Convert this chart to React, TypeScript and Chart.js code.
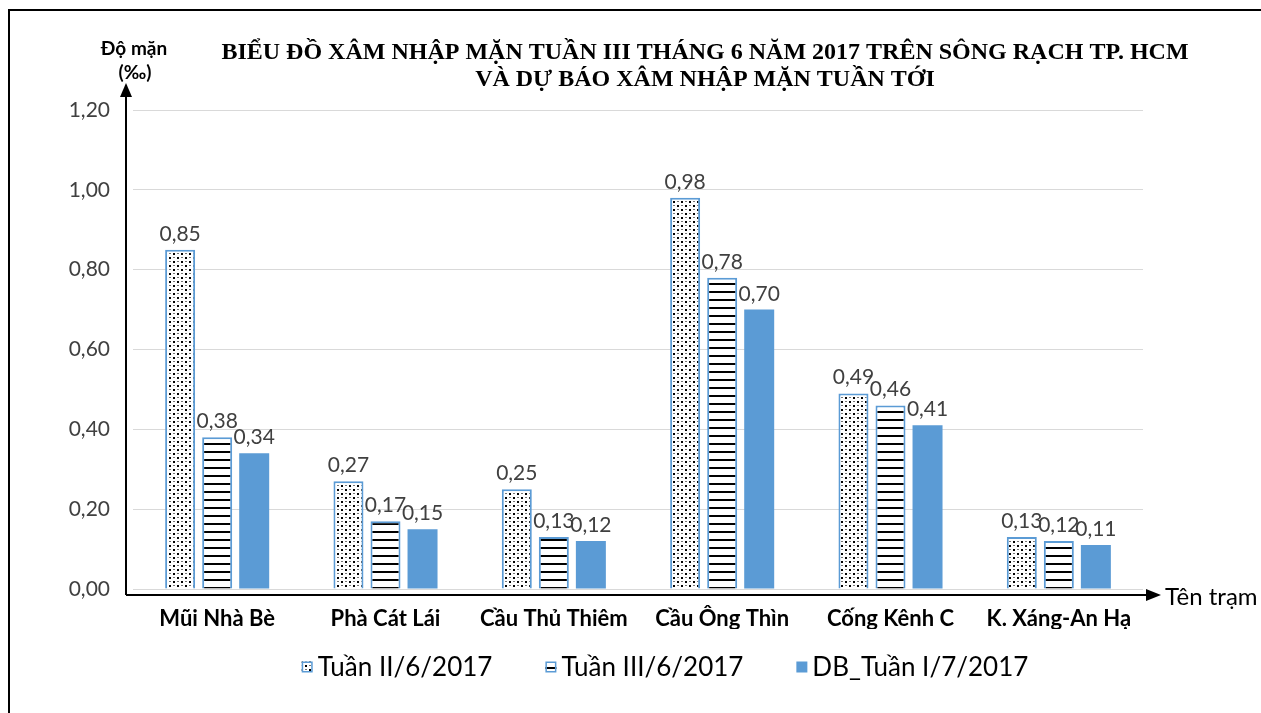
import React, { useEffect, useRef } from "react";
import { Chart, registerables } from "chart.js";

Chart.register(...registerables);

const categories = ["Mũi Nhà Bè", "Phà Cát Lái", "Cầu Thủ Thiêm", "Cầu Ông Thìn", "Cống Kênh C", "K. Xáng-An Hạ"];
const seriesNames = ["Tuần II/6/2017", "Tuần III/6/2017", "DB_Tuần I/7/2017"];
const week2 = [0.85, 0.27, 0.25, 0.98, 0.49, 0.13];
const week3 = [0.38, 0.17, 0.13, 0.78, 0.46, 0.12];
const forecast = [0.34, 0.15, 0.12, 0.7, 0.41, 0.11];
const yTicks = [0, 0.2, 0.4, 0.6, 0.8, 1.0, 1.2];
const titleLines = [
  "BIỂU ĐỒ XÂM NHẬP MẶN TUẦN III THÁNG 6 NĂM 2017 TRÊN SÔNG RẠCH TP. HCM",
  "VÀ DỰ BÁO XÂM NHẬP MẶN TUẦN TỚI",
];
const yTitleLines = ["Độ mặn", "(‰)"];
const xTitle = "Tên trạm";

const BLUE = "#5B9BD5";
const FONT = "Lato, 'Open Sans', sans-serif";

const fmt = (v: number) => v.toFixed(2).replace(".", ",");

function makeDotPattern(ctx: CanvasRenderingContext2D) {
  const c = document.createElement("canvas");
  c.width = 8;
  c.height = 8;
  const g = c.getContext("2d")!;
  g.fillStyle = "#fff";
  g.fillRect(0, 0, 8, 8);
  g.fillStyle = "#000";
  g.fillRect(1, 1, 2, 2);
  g.fillRect(5, 5, 2, 2);
  g.fillStyle = "#777";
  g.fillRect(5, 1, 2, 1);
  g.fillRect(1, 5, 2, 1);
  return ctx.createPattern(c, "repeat")!;
}

function makeLinePattern(ctx: CanvasRenderingContext2D) {
  const c = document.createElement("canvas");
  c.width = 8;
  c.height = 8;
  const g = c.getContext("2d")!;
  g.fillStyle = "#fff";
  g.fillRect(0, 0, 8, 8);
  g.fillStyle = "#000";
  g.fillRect(0, 3, 8, 2);
  return ctx.createPattern(c, "repeat")!;
}

export default function App() {
  const ref = useRef<HTMLCanvasElement>(null);

  useEffect(() => {
    document.body.style.margin = "0";
    document.body.style.overflow = "hidden";
    const canvas = ref.current!;
    const ctx = canvas.getContext("2d")!;
    const dotPat = makeDotPattern(ctx);
    const linePat = makeLinePattern(ctx);

    const decor = {
      id: "decor",
      afterDatasetsDraw(chart: any) {
        const c = chart.ctx;
        c.save();
        c.font = `21px ${FONT}`;
        c.fillStyle = "#404040";
        c.textAlign = "center";
        c.textBaseline = "alphabetic";
        chart.data.datasets.forEach((ds: any, i: number) => {
          const meta = chart.getDatasetMeta(i);
          meta.data.forEach((el: any, j: number) => {
            c.fillText(fmt(ds.data[j]), el.x, el.y - 9);
          });
        });
        c.restore();
      },
      afterDraw(chart: any) {
        const c = chart.ctx;
        const area = chart.chartArea;
        c.save();
        // outer frame
        c.strokeStyle = "#000";
        c.lineWidth = 2;
        c.beginPath();
        c.moveTo(9, 713);
        c.lineTo(9, 10);
        c.lineTo(1261, 10);
        c.stroke();

        // axes with arrows
        const ax = area.left - 7;
        const ay = area.bottom + 6;
        c.lineWidth = 2;
        c.beginPath();
        c.moveTo(ax, ay);
        c.lineTo(ax, 95);
        c.moveTo(ax, ay);
        c.lineTo(1148, ay);
        c.stroke();
        c.fillStyle = "#000";
        c.beginPath();
        c.moveTo(ax, 83);
        c.lineTo(ax - 6, 97);
        c.lineTo(ax + 6, 97);
        c.closePath();
        c.fill();
        c.beginPath();
        c.moveTo(1161, ay);
        c.lineTo(1146, ay - 6);
        c.lineTo(1146, ay + 6);
        c.closePath();
        c.fill();

        // x title
        c.font = `24px ${FONT}`;
        c.fillStyle = "#000";
        c.textAlign = "left";
        c.textBaseline = "middle";
        c.fillText(xTitle, 1165, ay + 2);

        // y title
        c.font = `bold 19px ${FONT}`;
        c.textAlign = "center";
        c.textBaseline = "alphabetic";
        c.fillText(yTitleLines[0], 134, 55);
        c.fillText(yTitleLines[1], 135, 79);

        // title
        c.font = "bold 24px 'Liberation Serif', 'Times New Roman', serif";
        c.fillText(titleLines[0], 705, 59);
        c.fillText(titleLines[1], 705, 86);

        // legend
        c.font = `26px ${FONT}`;
        c.textAlign = "left";
        const box = 11;
        const gapText = 5;
        const gapItem = 53;
        const widths = chart.data.datasets.map((d: any) => box + gapText + c.measureText(d.label).width);
        const total = widths.reduce((a: number, b: number) => a + b, 0) + gapItem * (widths.length - 1);
        let x = 665 - total / 2;
        const ly = 667;
        chart.data.datasets.forEach((d: any, i: number) => {
          c.fillStyle = d.backgroundColor;
          c.fillRect(x, ly - box / 2, box, box);
          if (d.borderWidth) {
            c.strokeStyle = d.borderColor;
            c.lineWidth = 1.5;
            c.strokeRect(x + 0.75, ly - box / 2 + 0.75, box - 1.5, box - 1.5);
          }
          c.fillStyle = "#000";
          c.textBaseline = "middle";
          c.fillText(d.label, x + box + gapText, ly + 1);
          x += widths[i] + gapItem;
        });
        c.restore();
      },
    };

    const chart = new Chart(canvas, {
      type: "bar",
      data: {
        labels: categories,
        datasets: [
          { label: seriesNames[0], data: week2, backgroundColor: dotPat as any, borderColor: BLUE, borderWidth: 2 },
          { label: seriesNames[1], data: week3, backgroundColor: linePat as any, borderColor: BLUE, borderWidth: 2 },
          { label: seriesNames[2], data: forecast, backgroundColor: BLUE, borderColor: BLUE, borderWidth: 0 },
        ],
      },
      options: {
        animation: false,
        responsive: false,
        devicePixelRatio: 1,
        layout: { padding: { top: 110, left: 0, right: 118, bottom: 84 } },
        datasets: { bar: { categoryPercentage: 0.66, barPercentage: 0.81 } },
        plugins: { legend: { display: false }, title: { display: false }, tooltip: { enabled: false } },
        scales: {
          x: {
            grid: { display: false, drawTicks: false },
            border: { display: false },
            ticks: { font: { family: FONT, size: 22, weight: "bold" }, color: "#000", padding: 17, maxRotation: 0 },
            afterFit: (s: any) => {
              s.height = 40;
            },
          },
          y: {
            min: 0,
            max: 1.2,
            afterBuildTicks: (s: any) => {
              s.ticks = yTicks.map((v) => ({ value: v }));
            },
            grid: { color: "#d9d9d9", drawTicks: false, lineWidth: 1 },
            border: { display: false },
            ticks: {
              font: { family: FONT, size: 21 },
              color: "#404040",
              padding: 23,
              callback: (v: any) => fmt(Number(v)),
            },
            afterFit: (s: any) => {
              s.width = 133;
            },
          },
        },
      },
      plugins: [decor],
    });
    return () => chart.destroy();
  }, []);

  return <canvas ref={ref} width={1261} height={713} style={{ display: "block" }} />;
}
